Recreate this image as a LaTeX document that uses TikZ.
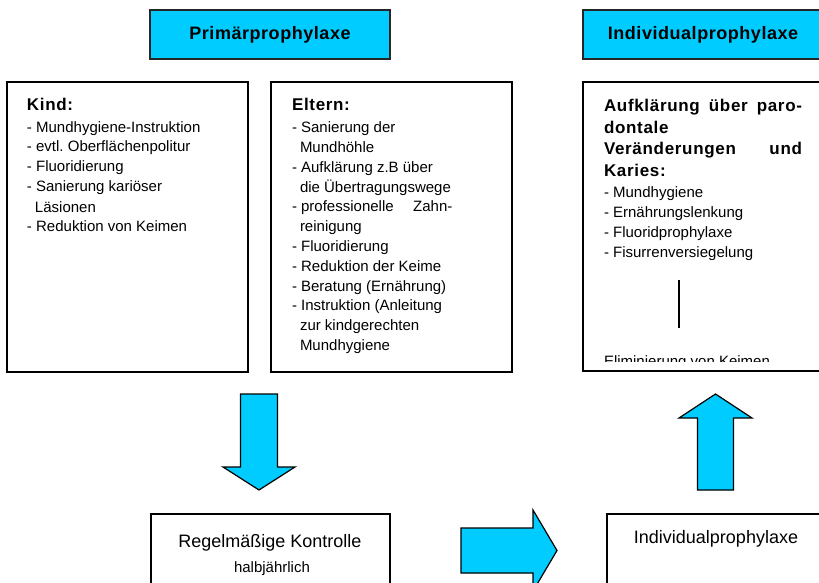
\documentclass[tikz,border=0pt]{standalone}
\usepackage{fontspec}
\setmainfont{Liberation Sans}
\frenchspacing
\definecolor{cyanfill}{RGB}{0,204,255}
\newcommand\hdrfont{\bfseries\fontsize{18}{22}\selectfont\addfontfeature{LetterSpace=3}}
\newcommand\bfx{\bfseries\fontsize{17}{20}\selectfont\addfontfeature{LetterSpace=4}}
\newcommand\regx{\fontsize{15}{20}\selectfont}
\begin{document}
\begin{tikzpicture}[x=1pt,y=-1pt,
  hdr/.style={draw=black!85, line width=1.6pt, fill=cyanfill, minimum width=240pt, minimum height=49pt, inner sep=0pt, font=\hdrfont},
  frame/.style={draw=black, line width=1.3pt, inner sep=0pt},
  blockarrow/.style={draw=black, line width=1.2pt, fill=cyanfill, line join=miter},
  txt/.style={anchor=base west, inner sep=0pt, outer sep=0pt},
  ctr/.style={anchor=base, inner sep=0pt, outer sep=0pt},
]
\useasboundingbox (0,0) rectangle (819,583);
\clip (0,0) rectangle (819,583);
\fill[white] (0,0) rectangle (819,583);

% header boxes
\node[hdr] (prim) at (270,34.5) {Primärprophylaxe};
\node[hdr] (indh) at (703,34.5) {Individualprophylaxe};

% content boxes
\node[frame, minimum width=241pt, minimum height=290pt] (kind) at (127.5,227) {};
\node[frame, minimum width=241pt, minimum height=290pt] (eltern) at (391.5,227) {};
\node[frame, minimum width=240pt, minimum height=289pt] (aufk) at (703,226.5) {};

% Kind text
\node[txt] (kindtxt) at (27,111) {\parbox[t]{215pt}{\regx
{\bfx Kind:}\\[1pt]
- Mundhygiene-Instruktion\\
- evtl. Oberflächenpolitur\\
- Fluoridierung\\
- Sanierung kariöser\\
\hspace*{8pt}Läsionen\\
- Reduktion von Keimen}};

% Eltern text
\node[txt] (elterntxt) at (292,111) {\parbox[t]{215pt}{\fontsize{15}{19.8}\selectfont
{\bfx Eltern:}\\[1.9pt]
- Sanierung der\\
\hspace*{8pt}Mundhöhle\\
- Aufklärung z.B über\\
\hspace*{8pt}die Übertragungswege\\
- professionelle\hspace{19.5pt}Zahn-\\
\hspace*{8pt}reinigung\\
- Fluoridierung\\
- Reduktion der Keime\\
- Beratung (Ernährung)\\
- Instruktion (Anleitung\\
\hspace*{8pt}zur kindgerechten\\
\hspace*{8pt}Mundhygiene}};

% Aufklaerung text
\node[txt] (aufktxt) at (604,111.7) {\parbox[t]{205pt}{\regx
\makebox[198pt][s]{\bfx Aufklärung über paro-}\\[1.6pt]
{\bfx dontale}\\[1.6pt]
\makebox[198pt][s]{\bfx Veränderungen und}\\[1.6pt]
{\bfx Karies:}\\[0.6pt]
- Mundhygiene\\
- Ernährungslenkung\\
- Fluoridprophylaxe\\
- Fisurrenversiegelung}};

\coordinate (vl1) at (679,280);
\coordinate (vl2) at (679,328);
\draw[line width=1.2pt] (vl1) -- (vl2);

\begin{scope}
\clip (590,340) rectangle (815,361.8);
\node[txt] (elim) at (604,366) {\regx Eliminierung von Keimen};
\end{scope}

% bottom boxes
\node[frame, minimum width=239pt, minimum height=106pt] (regel) at (270.5,567) {};
\node[frame, minimum width=218pt, minimum height=106pt] (indb) at (716,567) {};
\node[ctr] (regeltxt) at (270,547) {\fontsize{18}{22}\selectfont Regelmäßige Kontrolle};
\node[ctr] (halbtxt) at (272,572) {\fontsize{15}{18}\selectfont halbjährlich};
\node[ctr] (indbtxt) at (716,543) {\fontsize{18}{22}\selectfont Individualprophylaxe};

% block arrows
\draw[blockarrow] (240.5,394) -- (277.5,394) -- (277.5,467) -- (295,467) -- (259,490)
  -- (223,467) -- (240.5,467) -- cycle;
\draw[blockarrow] (715.5,394) -- (752,418) -- (733.5,418) -- (733.5,490) -- (697.5,490)
  -- (697.5,418) -- (679,418) -- cycle;
\draw[blockarrow] (461,528) -- (533,528) -- (533,510) -- (557,550.5) -- (533,591)
  -- (533,573) -- (461,573) -- cycle;
\end{tikzpicture}
\end{document}
